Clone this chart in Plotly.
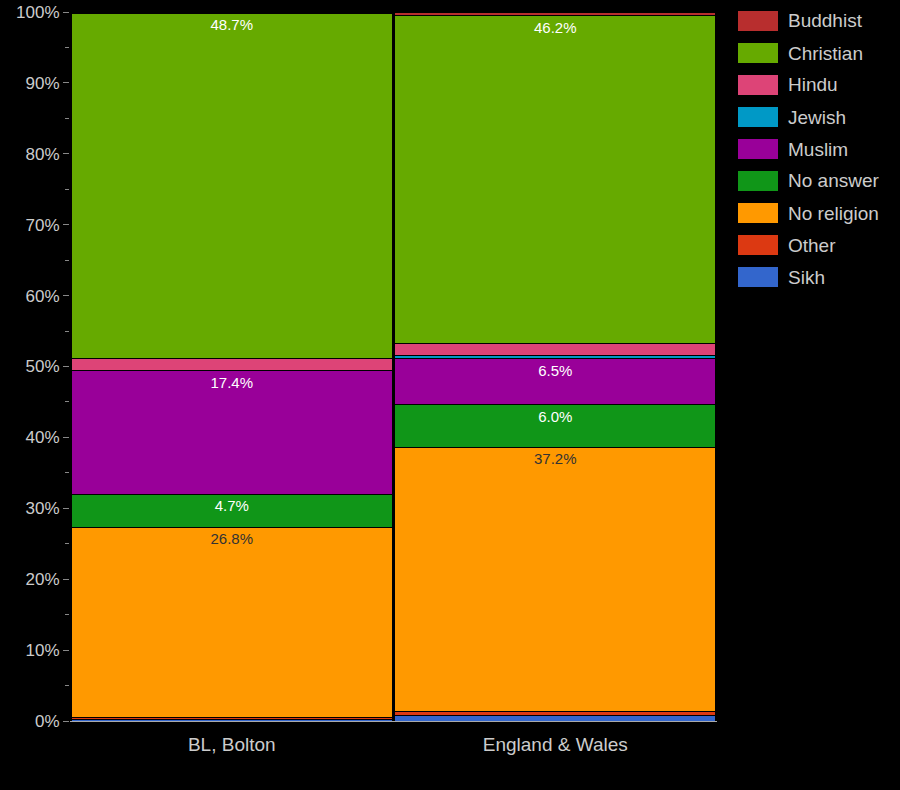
import plotly.graph_objects as go

AREAS = ["BL, Bolton", "England & Wales"]

# percentages per religion, bottom of stack first
RELIGIONS = ["Sikh", "Other", "No religion", "No answer", "Muslim",
             "Jewish", "Hindu", "Christian", "Buddhist"]
SIKH = [0.2, 0.8]
OTHER = [0.3, 0.6]
NO_RELIGION = [26.8, 37.2]
NO_ANSWER = [4.7, 6.0]
MUSLIM = [17.4, 6.5]
JEWISH = [0.1, 0.5]
HINDU = [1.6, 1.7]
CHRISTIAN = [48.7, 46.2]
BUDDHIST = [0.2, 0.5]

VALUES = [SIKH, OTHER, NO_RELIGION, NO_ANSWER, MUSLIM,
          JEWISH, HINDU, CHRISTIAN, BUDDHIST]

COLORS = {
    "Buddhist": "#b82e2e",
    "Christian": "#66aa00",
    "Hindu": "#dd4477",
    "Jewish": "#0099c6",
    "Muslim": "#990099",
    "No answer": "#109618",
    "No religion": "#ff9900",
    "Other": "#dc3912",
    "Sikh": "#3366cc",
}

W, H = 900, 790
L, R, T, B = 70, 183, 12, 69
PW, PH = W - L - R, H - T - B

fig = go.Figure()

for name, vals in zip(RELIGIONS, VALUES):
    # only label the bigger segments
    labels = [f"{v:.1f}%" if v >= 4 else "" for v in vals]
    txt_color = "#333333" if name == "No religion" else "white"
    fig.add_trace(go.Bar(
        name=name,
        x=AREAS,
        y=vals,
        marker=dict(color=COLORS[name], line=dict(color="black", width=1)),
        text=labels,
        textposition="inside",
        insidetextanchor="end",
        textangle=0,
        textfont=dict(color=txt_color, size=15),
        hovertemplate=f"{name}: %{{y:.1f}}%<extra></extra>",
        showlegend=False,
    ))

# hand-drawn legend (40x20 swatches like the original), top item first
shapes, annotations = [], []
for i, name in enumerate(reversed(RELIGIONS)):
    cy = 21 + 32 * i  # pixel centre from top of page
    y0 = (H - B - (cy + 10)) / PH
    y1 = (H - B - (cy - 10)) / PH
    shapes.append(dict(
        type="rect", xref="paper", yref="paper",
        x0=(738 - L) / PW, x1=(778 - L) / PW, y0=y0, y1=y1,
        fillcolor=COLORS[name], line=dict(width=0),
    ))
    annotations.append(dict(
        text=name, xref="paper", yref="paper",
        x=(786 - L) / PW, y=(H - B - cy) / PH,
        xanchor="left", yanchor="middle", showarrow=False,
        font=dict(size=19, color="#cccccc"),
    ))

fig.update_layout(
    barmode="stack",
    bargap=0.008,
    width=W,
    height=H,
    paper_bgcolor="black",
    plot_bgcolor="black",
    margin=dict(l=L, r=R, t=T, b=B),
    font=dict(family="Arial, Liberation Sans, sans-serif", color="#cccccc", size=16),
    uniformtext=dict(minsize=8, mode="show"),
    showlegend=False,
    shapes=shapes,
    annotations=annotations,
)

fig.update_yaxes(
    range=[0, 100],
    dtick=10,
    ticksuffix="%",
    showgrid=False,
    zeroline=False,
    automargin=False,
    ticks="outside",
    ticklen=6,
    tickcolor="#888888",
    minor=dict(dtick=5, ticks="outside", ticklen=4, tickcolor="#888888"),
    tickfont=dict(size=17, color="#cccccc"),
)
fig.update_xaxes(
    showgrid=False,
    showline=True,
    linecolor="#aaaaaa",
    linewidth=1,
    automargin=False,
    ticks="outside",
    ticklen=6,
    tickcolor="black",
    tickfont=dict(size=19, color="#cccccc"),
)

fig.write_html(
    "out.html",
    config={"displayModeBar": False},
    post_script="document.body.style.margin='0';document.body.style.background='black';",
)
